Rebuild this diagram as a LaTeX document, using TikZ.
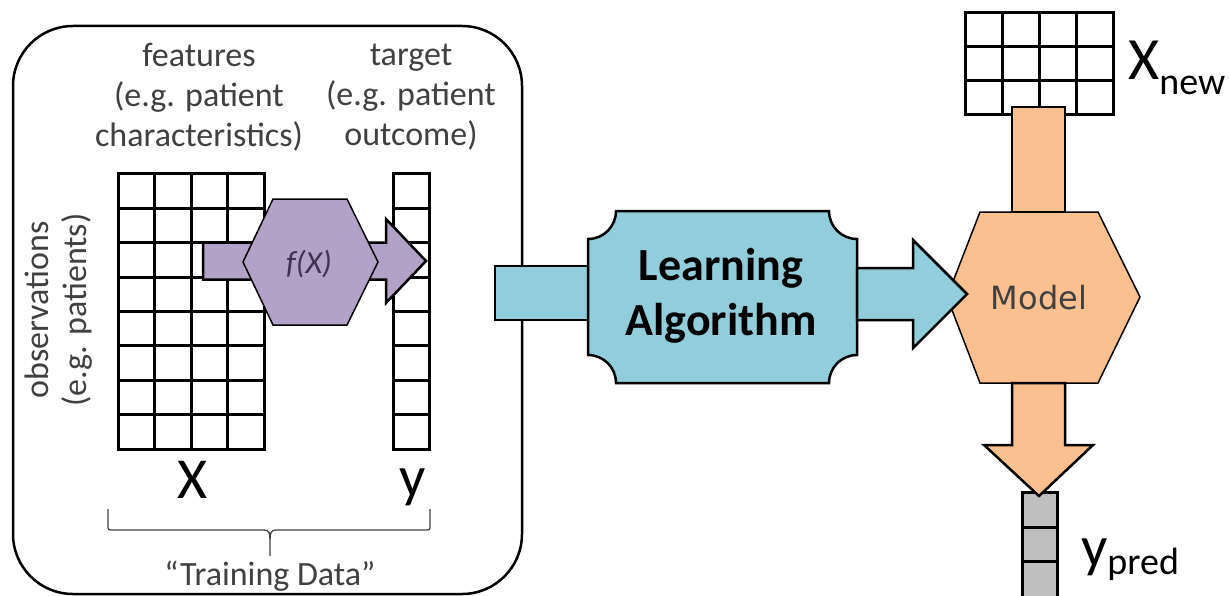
\documentclass[tikz,border=0pt]{standalone}
\usepackage{fontspec}
\setmainfont{Carlito}
\newfontfamily\dvs{DejaVu Sans}
\definecolor{lblue}{HTML}{92CDDC}
\definecolor{lpurple}{HTML}{B3A2C7}
\definecolor{lorange}{HTML}{FAC090}
\definecolor{lgray}{HTML}{BFBFBF}
\definecolor{txtgray}{HTML}{404040}
\definecolor{fxcol}{HTML}{3F3151}
\begin{document}
\begin{tikzpicture}[x=1pt,y=-1pt,
  outl/.style={draw=black, line width=2.5pt, line join=miter},
  gridl/.style={draw=black, line width=3pt, line cap=rect},
  lbl/.style={text=txtgray, font=\fontsize{34}{40}\selectfont, align=center, inner sep=0pt},
  biglbl/.style={text=black, font=\fontsize{58}{58}\selectfont, inner sep=0pt}]
\useasboundingbox (0,0) rectangle (1230,596);
% training data frame
\node[draw=black, line width=2.5pt, rounded corners=60pt, minimum width=509pt, minimum height=568pt, inner sep=0pt] (frame) at (267.5,310) {};
% labels
\node[lbl] (feat) at (199,97) {features\\(e.g. patient\\characteristics)};
\node[lbl] (targ) at (411,97) {target\\(e.g. patient\\outcome)};
\node[lbl, rotate=90, font=\fontsize{34}{38}\selectfont] (obs) at (59,310) {observations\\(e.g. patients)};
% X grid
\foreach \i in {0,...,4} \draw[gridl] (118+\i*36.5,174) -- (118+\i*36.5,449);
\foreach \j in {0,...,8} \draw[gridl] (118,174+\j*34.375) -- (264,174+\j*34.375);
% y column
\foreach \i in {0,1} \draw[gridl] (393+\i*36,174) -- (393+\i*36,449);
\foreach \j in {0,...,8} \draw[gridl] (393,174+\j*34.375) -- (429,174+\j*34.375);
\coordinate (Xgrid) at (191,312);
\coordinate (ycol) at (411,312);
% f(X) arrow and hexagon
\coordinate (fstart) at (203,261);
\coordinate (ftip) at (426,261);
\draw[outl, fill=lpurple] (fstart) ++(0,-18.5) -- (386,242.5) -- (386,219) -- (ftip) -- (386,303) -- (386,279.5) -- (203,279.5) -- cycle;
\draw[outl, fill=lpurple, line width=1.5pt] (243,262) -- (273,199) -- (347,199) -- (378,262) -- (347,325) -- (273,325) -- cycle;
\node[text=fxcol, font=\fontsize{32}{32}\selectfont\itshape, inner sep=0pt] (fx) at (309,264) {f(X)};
% X, y labels
\node[biglbl, anchor=base] (Xlbl) at (193,498) {X};
\node[biglbl, anchor=base] (ylbl) at (413,496) {y};
% brace
\draw[line width=1.3pt, draw=txtgray] (108,509) -- (108,525) .. controls (108,530) .. (113,530) -- (264,530) .. controls (269,530) and (270,533) .. (270,539) -- (270,556);
\draw[line width=1.3pt, draw=txtgray] (430,509) -- (430,525) .. controls (430,530) .. (425,530) -- (276,530) .. controls (271,530) and (270,533) .. (270,539);
\node[lbl, anchor=base] (train) at (270,585) {“Training Data”};
% input shaft to learning algorithm
\draw[outl, fill=lblue] (495,266) rectangle (588,320);
% learning algorithm plaque
\draw[outl, fill=lblue] (616,211) -- (829,211) .. controls (829,226.5) and (841.5,239) .. (857,239) -- (857,355) .. controls (841.5,355) and (829,367.5) .. (829,383) -- (616,383) .. controls (616,367.5) and (603.5,355) .. (588,355) -- (588,239) .. controls (603.5,239) and (616,226.5) .. (616,211) -- cycle;
\node[font=\fontsize{46}{55}\selectfont\bfseries, align=center, inner sep=0pt] (alg) at (721,296) {Learning\\Algorithm};
% X new grid
\foreach \i in {0,...,4} \draw[gridl] (965+\i*37,13) -- (965+\i*37,115);
\foreach \j in {0,...,3} \draw[gridl] (965,13+\j*34) -- (1113,13+\j*34);
\node[anchor=base west, inner sep=0pt, font=\fontsize{60}{60}\selectfont] (xnew) at (1128,80) {X\raisebox{-15pt}{\fontsize{38}{38}\selectfont new}};
% top orange shaft
\draw[outl, fill=lorange] (1012,107) rectangle (1065,212);
% model hexagon
\draw[outl, fill=lorange, line width=1.5pt] (947,297) -- (980,212) -- (1098,212) -- (1140,297) -- (1098,383) -- (980,383) -- cycle;
\node[text=txtgray, font=\dvs\fontsize{32}{32}\selectfont, inner sep=0pt] (model) at (1039,298) {Model};
% output arrow of learning algorithm
\draw[outl, fill=lblue] (857,268) -- (913,268) -- (913,240) -- (967,294) -- (913,348) -- (913,320) -- (857,320) -- cycle;
% y pred column
\draw[gridl, fill=lgray] (1022,492) rectangle (1057,597);
\draw[gridl] (1022,527) -- (1057,527);
\draw[gridl] (1022,561) -- (1057,561);
\node[anchor=base west, inner sep=0pt, font=\fontsize{58}{58}\selectfont] (ypred) at (1081,566) {y\raisebox{-8pt}{\fontsize{38}{38}\selectfont pred}};
% bottom orange arrow
\draw[outl, fill=lorange] (1012,383) -- (1065,383) -- (1065,445) -- (1093,445) -- (1039,496) -- (984,445) -- (1012,445) -- cycle;
\end{tikzpicture}
\end{document}
